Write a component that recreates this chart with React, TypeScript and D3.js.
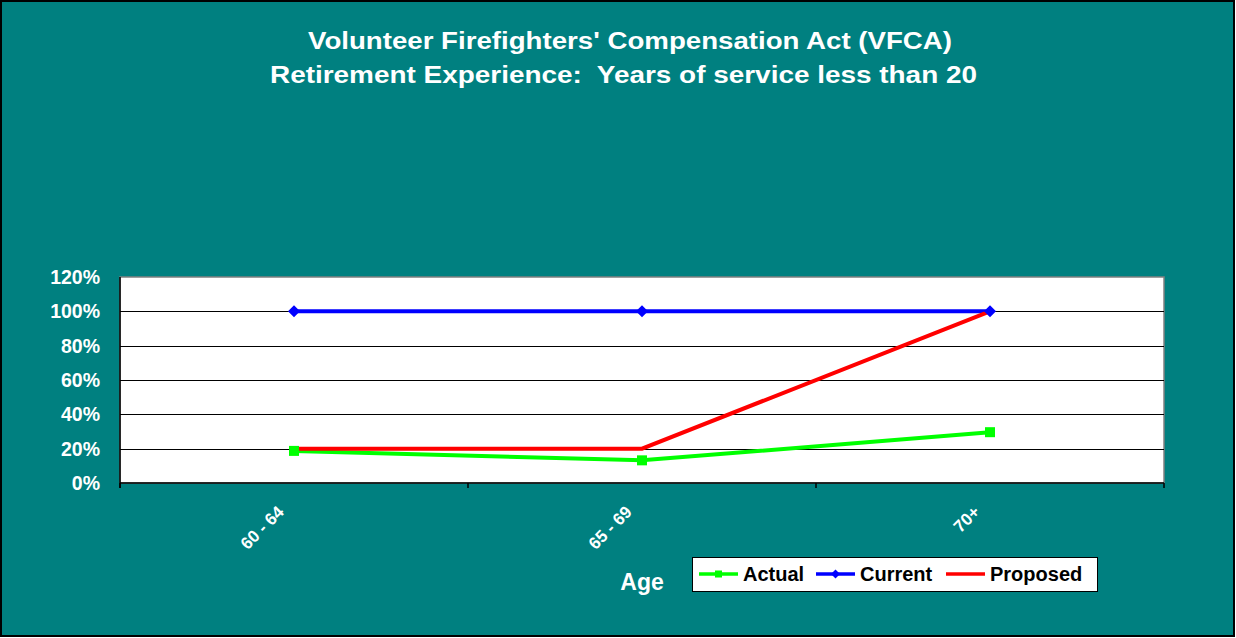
import React from 'react';
import * as d3 from 'd3';

// Data
const categories = ['60 - 64', '65 - 69', '70+'];
const actual = [0.187, 0.132, 0.296];
const current = [1.0, 1.0, 1.0];
const proposed = [0.2, 0.2, 1.0];
const yTicks = [0, 0.2, 0.4, 0.6, 0.8, 1.0, 1.2];
const titleLines = [
  "Volunteer Firefighters' Compensation Act (VFCA)",
  'Retirement Experience:  Years of service less than 20',
];

const W = 1236, H = 638;
const plot = { left: 120, right: 1164, top: 277, bottom: 483 };
const font = '"Liberation Sans", Arial, sans-serif';

const series = [
  { name: 'Actual', values: actual, color: '#00ff00', marker: 'square' },
  { name: 'Current', values: current, color: '#0000ff', marker: 'diamond' },
  { name: 'Proposed', values: proposed, color: '#ff0000', marker: 'none' },
];

const Marker = ({ type, x, y, color, size = 10 }: { type: string; x: number; y: number; color: string; size?: number }) => {
  const h = size / 2;
  if (type === 'square') return <rect x={x - h} y={y - h} width={size} height={size} fill={color} />;
  if (type === 'diamond') return <path d={`M${x},${y - h - 1}L${x + h + 1},${y}L${x},${y + h + 1}L${x - h - 1},${y}Z`} fill={color} />;
  return null;
};

export default function App() {
  const x = d3.scaleBand<string>().domain(categories).range([plot.left, plot.right]);
  const y = d3.scaleLinear().domain([0, 1.2]).range([plot.bottom, plot.top]);
  const cx = (c: string) => (x(c) as number) + x.bandwidth() / 2;

  const line = d3.line<number>()
    .x((_, i) => cx(categories[i]))
    .y(d => y(d));

  const bandEdges = categories.map(c => x(c) as number).concat([plot.right]);

  const legendItems = [
    { s: series[0], lx: 699, tx: 743 },
    { s: series[1], lx: 816, tx: 860 },
    { s: series[2], lx: 946, tx: 990 },
  ];

  const titleGeom = [
    { x: 308, y: 49, len: 644 },
    { x: 270, y: 83, len: 707 },
  ];

  return (
    <div style={{ position: 'absolute', left: 0, top: 0 }}>
      <svg width={W} height={H} style={{ display: 'block' }}>
        <rect x={1} y={1} width={W - 3} height={H - 3} fill="#008080" stroke="#000" strokeWidth={2} />

        {titleLines.map((t, i) => (
          <text key={i} x={titleGeom[i].x} y={titleGeom[i].y} fill="#fff" style={{ whiteSpace: 'pre' }}
            textLength={titleGeom[i].len} lengthAdjust="spacingAndGlyphs"
            fontFamily={font} fontWeight="bold" fontSize={23}>{t}</text>
        ))}

        {/* plot area */}
        <rect x={plot.left} y={plot.top} width={plot.right - plot.left} height={plot.bottom - plot.top}
          fill="#fff" stroke="#808080" strokeWidth={1.5} />

        {yTicks.slice(1, -1).map(t => (
          <line key={t} x1={plot.left} x2={plot.right} y1={Math.round(y(t)) + 0.5} y2={Math.round(y(t)) + 0.5}
            stroke="#000" strokeWidth={1} />
        ))}

        {/* axes */}
        <line x1={plot.left} x2={plot.left} y1={plot.top} y2={plot.bottom + 5} stroke="#000" strokeWidth={1.5} />
        <line x1={plot.left} x2={plot.right} y1={plot.bottom} y2={plot.bottom} stroke="#000" strokeWidth={1.5} />
        {bandEdges.map((e, i) => (
          <line key={i} x1={e} x2={e} y1={plot.bottom} y2={plot.bottom + 5} stroke="#000" strokeWidth={1.5} />
        ))}

        {yTicks.map(t => (
          <text key={t} x={100} y={y(t) + 7} textAnchor="end" fill="#fff" fontFamily={font}
            fontWeight="bold" fontSize={19.5}>{d3.format('.0%')(t)}</text>
        ))}

        {categories.map(c => (
          <text key={c} transform={`translate(${cx(c) - 9},${plot.bottom + 30}) rotate(-45)`}
            textAnchor="end" fill="#fff" fontFamily={font} fontWeight="bold" fontSize={17}>{c}</text>
        ))}

        <text x={642} y={590} textAnchor="middle" fill="#fff" fontFamily={font} fontWeight="bold" fontSize={23}>Age</text>

        {/* lines then markers */}
        {series.map(s => (
          <path key={s.name} d={line(s.values) as string} fill="none" stroke={s.color} strokeWidth={4} />
        ))}
        {series.map(s => s.values.map((v, i) => (
          <Marker key={s.name + i} type={s.marker} x={cx(categories[i])} y={y(v)} color={s.color} />
        )))}

        {/* legend */}
        <rect x={692.5} y={557.5} width={405} height={34} fill="#fff" stroke="#000" strokeWidth={1} />
        {legendItems.map(({ s, lx, tx }) => (
          <g key={s.name}>
            <line x1={lx} x2={lx + 39} y1={574} y2={574} stroke={s.color} strokeWidth={3.5} />
            <Marker type={s.marker} x={lx + 19.5} y={574} color={s.color} size={7} />
            <text x={tx} y={581} fill="#000" fontFamily={font} fontWeight="bold" fontSize={20}>{s.name}</text>
          </g>
        ))}
      </svg>
    </div>
  );
}
